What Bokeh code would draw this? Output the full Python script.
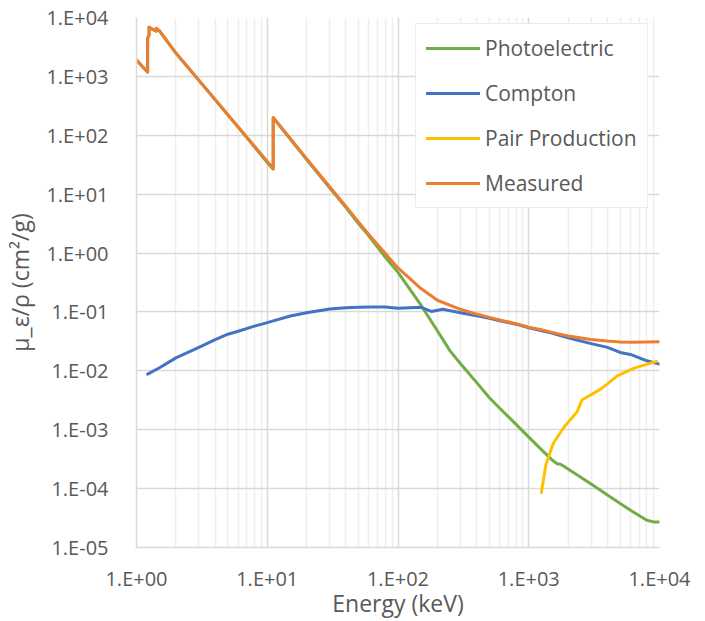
from bokeh.plotting import figure
from bokeh.models import Range1d, FixedTicker, CustomJSTickFormatter
from bokeh.embed import file_html
from bokeh.resources import INLINE

# ---------------- data (energy in keV, mass attenuation in cm^2/g) ----------------
pe_energy = [1.0, 1.1, 1.2167, 1.2167, 1.232, 1.248, 1.248, 1.33, 1.414, 1.414, 1.5,
             2, 3, 4, 5, 6, 8, 10, 11.103, 11.103, 15, 20, 30, 40, 50, 60, 80, 100,
             150, 200, 250, 300, 400, 500, 600, 800, 1000, 1250, 1500, 1650, 1750, 2000,
             3000, 4000, 5000, 6000, 8000, 9000, 10000]
pe_mu = [1890, 1495, 1185, 4390, 4740, 5000, 6850, 6250, 5850, 6500, 5900,
         2490, 855, 400, 221, 136, 63, 34.5, 26.5, 198, 86, 38.5, 12.8, 5.9, 3.15, 1.95, 0.85, 0.47,
         0.13, 0.048, 0.0218, 0.0133, 0.0063, 0.0035, 0.00232, 0.00123, 0.00075, 0.00046, 0.00031,
         0.000265, 0.00026, 0.000216,
         0.00012, 7.8e-5, 5.6e-5, 4.3e-5, 2.9e-5, 2.72e-5, 2.72e-5]

co_energy = [1.2167, 1.5, 2, 3, 4, 5, 6, 8, 10, 15, 20, 30, 40, 50, 60, 80, 100,
             150, 180, 220, 300, 400, 500, 600, 800, 1000, 1500, 2000, 3000, 4000,
             5000, 6000, 8000, 10000]
co_mu = [0.0088, 0.0113, 0.0166, 0.0251, 0.0339, 0.0419, 0.0471, 0.0575, 0.066, 0.0855, 0.097,
         0.112, 0.118, 0.12, 0.121, 0.121, 0.116, 0.12, 0.102, 0.111, 0.097, 0.086, 0.078,
         0.071, 0.062, 0.054, 0.044, 0.0365, 0.029, 0.025, 0.0205, 0.019, 0.0148, 0.013]

pp_energy = [1250, 1350, 1500, 1550, 1850, 2350, 2550, 3500, 4000, 4750, 6400, 9500]
pp_mu = [8.6e-5, 2.5e-4, 5.0e-4, 6.0e-4, 1.09e-3, 2.03e-3, 3.2e-3, 4.8e-3, 6.0e-3, 8.2e-3,
         1.11e-2, 1.45e-2]

meas_energy = [1.0, 1.1, 1.2167, 1.2167, 1.232, 1.248, 1.248, 1.33, 1.414, 1.414, 1.5,
               2, 3, 4, 5, 6, 8, 10, 11.103, 11.103, 15, 20, 30, 40, 50, 60, 80, 100,
               150, 200, 300, 400, 500, 600, 800, 1000, 1250, 1500, 2000, 3000, 4000,
               5000, 6000, 8000, 10000]
meas_mu = [1900, 1500, 1190, 4400, 4750, 5000, 6900, 6300, 5900, 6550, 5950,
           2500, 860, 403, 223, 138, 65, 36, 27.3, 200, 88, 40, 13.4, 6.2, 3.35, 2.05, 0.98, 0.56,
           0.25, 0.158, 0.111, 0.092, 0.081, 0.073, 0.063, 0.055, 0.050, 0.045, 0.039, 0.034, 0.032,
           0.031, 0.0305, 0.031, 0.0313]

x_ticks = [1, 10, 100, 1000, 10000]
x_tick_labels = ["1.E+00", "1.E+01", "1.E+02", "1.E+03", "1.E+04"]
y_ticks = [1e-5, 1e-4, 1e-3, 1e-2, 1e-1, 1, 10, 100, 1000, 10000]
y_tick_labels = ["1.E-05", "1.E-04", "1.E-03", "1.E-02", "1.E-01",
                 "1.E+00", "1.E+01", "1.E+02", "1.E+03", "1.E+04"]

series_names = ["Photoelectric", "Compton", "Pair Production", "Measured"]
series_colors = ["#70AD47", "#4472C4", "#FFC000", "#ED7D31"]

FONT = "Open Sans"
TEXT = "#595959"

p = figure(x_axis_type="log", y_axis_type="log",
           x_range=Range1d(1, 1e4), y_range=Range1d(1e-5, 1e4),
           frame_width=523, frame_height=530,
           min_border_left=136, min_border_right=46, min_border_top=17, min_border_bottom=74,
           output_backend="svg", toolbar_location=None)

minor_x = [m * 10 ** k for k in range(0, 4) for m in range(2, 10)]
p.xaxis.ticker = FixedTicker(ticks=x_ticks, minor_ticks=minor_x)
p.yaxis.ticker = FixedTicker(ticks=y_ticks)

fmt_code = """
let best = 0, bd = Infinity;
for (let i = 0; i < tvals.length; i++) {
  const d = Math.abs(Math.log10(tick) - Math.log10(tvals[i]));
  if (d < bd) { bd = d; best = i; }
}
return tlabels[best];
"""
p.xaxis.formatter = CustomJSTickFormatter(args=dict(tvals=x_ticks, tlabels=x_tick_labels), code=fmt_code)
p.yaxis.formatter = CustomJSTickFormatter(args=dict(tvals=y_ticks, tlabels=y_tick_labels), code=fmt_code)

for ax in (p.xaxis, p.yaxis):
    ax.major_tick_line_color = None
    ax.minor_tick_line_color = None
    ax.axis_line_color = "#d9d9d9"
    ax.axis_line_width = 1.5
    ax.major_label_text_font = FONT
    ax.major_label_text_font_size = "20px"
    ax.major_label_text_color = TEXT
    ax.axis_label_text_font = FONT
    ax.axis_label_text_font_size = "23px"
    ax.axis_label_text_color = TEXT
    ax.axis_label_text_font_style = "normal"

p.xaxis.axis_label = "Energy (keV)"
p.yaxis.axis_label = "μ_ε/ρ (cm²/g)"
p.xaxis.major_label_standoff = 11
p.yaxis.major_label_standoff = 22
p.xaxis.axis_label_standoff = -8
p.yaxis.axis_label_standoff = 7

p.xgrid.grid_line_color = "#d9d9d9"
p.xgrid.grid_line_width = 1.5
p.xgrid.minor_grid_line_color = "#eeeeee"
p.xgrid.minor_grid_line_width = 1.5
p.ygrid.grid_line_color = "#d9d9d9"
p.ygrid.grid_line_width = 1.5
p.ygrid.minor_grid_line_color = None
p.outline_line_color = None

data = [(pe_energy, pe_mu), (co_energy, co_mu), (pp_energy, pp_mu), (meas_energy, meas_mu)]
for (xs, ys), name, col in zip(data, series_names, series_colors):
    p.line(xs, ys, line_color=col, line_width=3, line_join="round", line_cap="round",
           legend_label=name)

lg = p.legend[0]
lg.location = (279, 339)
lg.border_line_color = "#d9d9d9"
lg.border_line_width = 1.5
lg.background_fill_color = "white"
lg.background_fill_alpha = 1.0
lg.padding = 10
lg.margin = 0
lg.spacing = 17
lg.glyph_width = 54
lg.glyph_height = 20
lg.label_height = 20
lg.label_standoff = 5
lg.label_text_font = FONT
lg.label_text_font_size = "21px"
lg.label_text_color = TEXT

open("out.html", "w").write(file_html(p, INLINE))
